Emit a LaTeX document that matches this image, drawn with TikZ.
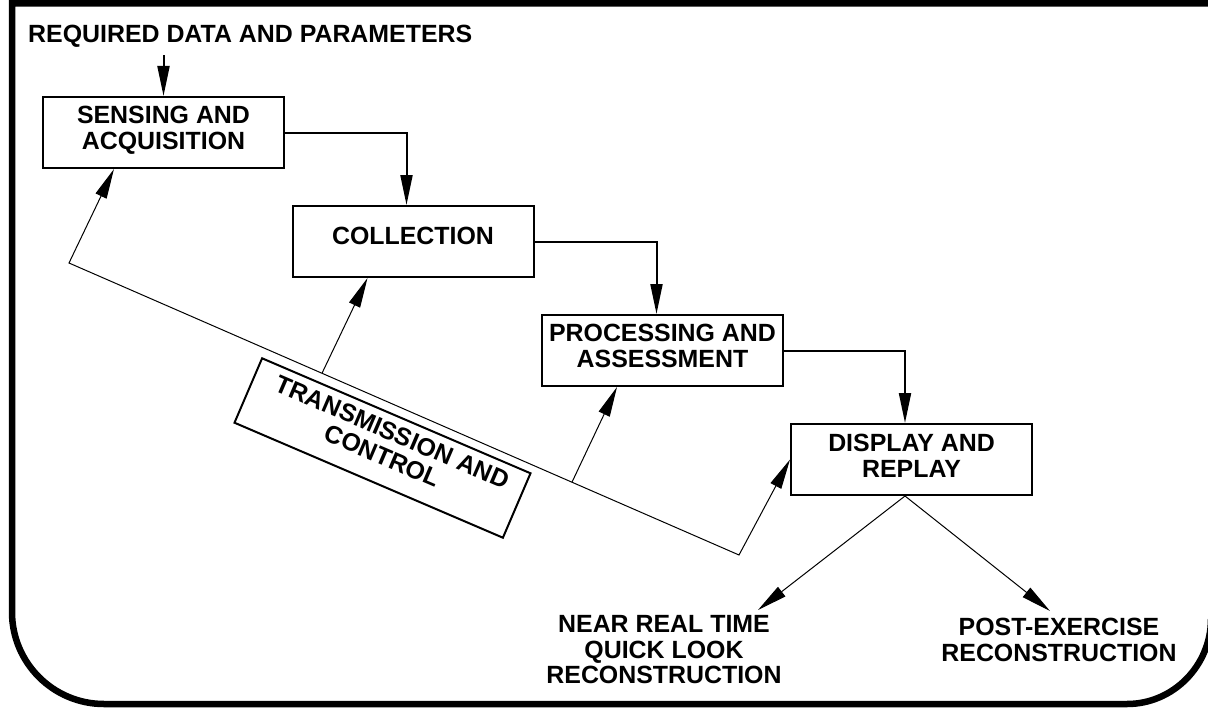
\documentclass[tikz,border=0pt]{standalone}
\usepackage{fontspec}
\setmainfont{Liberation Sans}
\usetikzlibrary{arrows.meta,calc}
\begin{document}
\begin{tikzpicture}[x=1pt,y=-1pt,
  every node/.style={font=\fontsize{24.9}{25.5}\selectfont\bfseries},
  stage/.style={draw, line width=2pt, minimum width=241pt, minimum height=71pt, inner sep=0pt},
  caption/.style={align=center, inner sep=0pt},
  flow/.style={line width=2pt, -{Triangle[length=30pt,width=12pt]}},
  feed/.style={line width=1pt, -{Triangle[length=30pt,width=12pt]}},
  border/.style={line width=6.5pt}]
\useasboundingbox (0,0) rectangle (1208,709);
\clip (0,0) rectangle (1208,709);

% outer frame with rounded lower corners
\draw[border] (1230,3.5) -- (12,3.5) -- (12,612)
  .. controls (12,662.8) and (53.2,704) .. (104,704) -- (1127,704)
  .. controls (1173.4,704) and (1211,665.4) .. (1211,619);

% process stages
\node[stage] (sens) at (163.5,132.5) {};
\node[caption] at ($(sens)+(0,-2)$) {SENSING AND\\ACQUISITION};
\node[stage] (coll) at (413,241.5) {};
\node[caption] at ($(coll)+(0,-6)$) {COLLECTION};
\node[stage] (proc) at (662.5,350.5) {};
\node[caption] at ($(proc)+(0,-4.5)$) {PROCESSING AND\\ASSESSMENT};
\node[stage] (disp) at (911.5,459.5) {};
\node[caption] at ($(disp)+(0,-3.5)$) {DISPLAY AND\\REPLAY};

% tilted transmission box, 292 x 70, turned 23.2 degrees
\coordinate (trans) at (382.5,448);
\coordinate (tnw) at (262.1,358.3);
\coordinate (tne) at (530.5,473.3);
\coordinate (tse) at (502.9,537.7);
\coordinate (tsw) at (234.5,422.7);
\draw[line width=2pt] (tnw) -- (tne) -- (tse) -- (tsw) -- cycle;
\node[align=center, inner sep=0pt, rotate=-23.2] (tlabel) at ($(trans)+(5,-4)$)
  {TRANSMISSION AND\\CONTROL};

% input
\node[anchor=base west, inner sep=0pt] (req) at (28,43) {REQUIRED DATA AND PARAMETERS};
\draw[flow] ([yshift=-7pt]sens.north |- req.south) -- (sens.north);

% main flow
\draw[flow] (sens.east) -| ([xshift=-6.5pt]coll.north);
\draw[flow] (coll.east) -| ([xshift=-6pt]proc.north);
\draw[flow] (proc.east) -| ([xshift=-6.5pt]disp.north);

% transmission / control links
\coordinate (fa) at (69,263);
\coordinate (fb) at (739,555);
\draw[line width=1pt, {Triangle[length=30pt,width=12pt]}-{Triangle[length=30pt,width=12pt]}]
  ([xshift=72pt]sens.south west) -- (fa) -- (fb) -- (disp.west);
\coordinate (f1) at ($(fa)!0.3776!(fb)$);
\coordinate (f2) at ($(fa)!0.7507!(fb)$);
\draw[feed] (f1) -- ([xshift=76pt]coll.south west);
\draw[feed] (f2) -- ([xshift=76pt]proc.south west);

% outputs
\node[caption] (nrt) at (664,650) {NEAR REAL TIME\\QUICK LOOK\\RECONSTRUCTION};
\node[caption] (post) at (1059,640) {POST-EXERCISE\\RECONSTRUCTION};
\coordinate (split) at ([xshift=-6.5pt]disp.south);
\coordinate (tipl) at (758,610);
\coordinate (tipr) at (1050,611);
\draw[feed] (split) -- (tipl);
\draw[feed] (split) -- (tipr);
\end{tikzpicture}
\end{document}
